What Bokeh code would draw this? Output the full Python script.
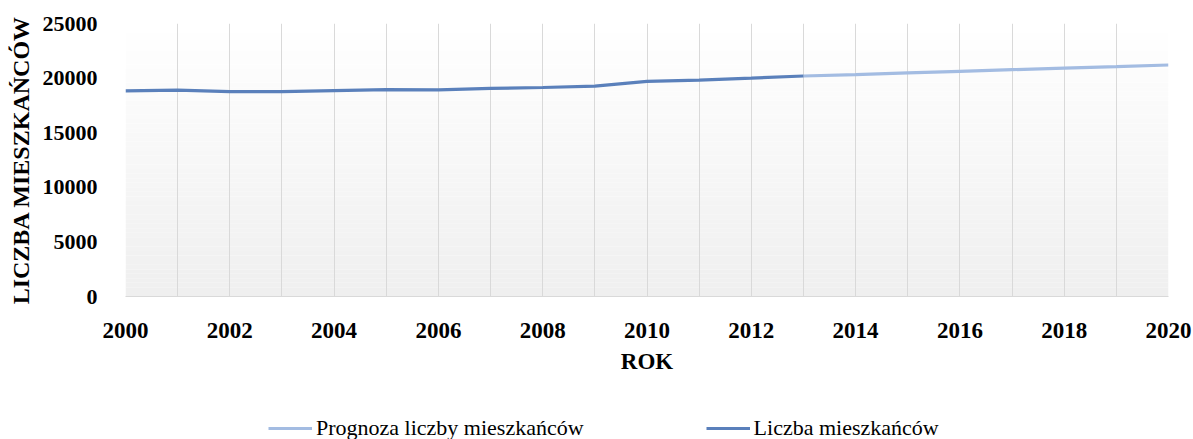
from bokeh.plotting import figure
from bokeh.layouts import column
from bokeh.models import Range1d, FixedTicker, Legend, LegendItem
from bokeh.embed import file_html
from bokeh.resources import INLINE
import numpy as np

# ---- data ----
years_actual = [2000, 2001, 2002, 2003, 2004, 2005, 2006, 2007, 2008, 2009, 2010, 2011, 2012, 2013]
population = [18830, 18900, 18760, 18760, 18860, 18950, 18930, 19050, 19140, 19260, 19700, 19820, 20000, 20190]
years_forecast = [2013, 2014, 2015, 2016, 2017, 2018, 2019, 2020]
forecast = [20190, 20320, 20470, 20620, 20770, 20910, 21050, 21200]
x_ticks = [2000, 2002, 2004, 2006, 2008, 2010, 2012, 2014, 2016, 2018, 2020]
y_ticks = [0, 5000, 10000, 15000, 20000, 25000]
label_forecast = "Prognoza liczby mieszkańców"
label_actual = "Liczba mieszkańców"

X0, X1 = 2000, 2020
Y0, Y1 = 0, 25000
FONT = "Liberation Serif"
C_FC = "#a3bce2"
C_AC = "#5a80bb"
LW = 3.2

W = 1193
H_MAIN = 395
H_LEG = 44

p = figure(width=W, height=H_MAIN, output_backend="svg", toolbar_location=None,
           x_range=Range1d(X0, X1), y_range=Range1d(Y0, Y1),
           min_border_left=125, min_border_right=25, min_border_top=23,
           min_border_bottom=H_MAIN - 296)
p.outline_line_color = None
p.background_fill_color = "white"
p.border_fill_color = "white"

# gradient background of the plot area (white at top, light grey at bottom)
n = 60
edges = np.linspace(Y0, Y1, n + 1)
cols = []
for i in range(n):
    t = i / (n - 1)
    v = int(round(0xEF + (0xFF - 0xEF) * t))
    cols.append("#%02x%02x%02x" % (v, v, v))
p.quad(left=X0, right=X1, bottom=edges[:-1], top=edges[1:], fill_color=cols,
       line_color=None, level="image")

# grids
p.ygrid.grid_line_color = None
p.xgrid.ticker = FixedTicker(ticks=list(range(X0, X1 + 1)))
p.xgrid.grid_line_color = "#d9d9d9"
p.xgrid.grid_line_width = 1

# lines
p.line(years_forecast, forecast, line_color=C_FC, line_width=LW)
p.line(years_actual, population, line_color=C_AC, line_width=LW)

# axes
p.xaxis.ticker = FixedTicker(ticks=x_ticks)
p.yaxis.ticker = FixedTicker(ticks=y_ticks)
for ax in (p.xaxis[0], p.yaxis[0]):
    ax.major_tick_line_color = None
    ax.minor_tick_line_color = None
    ax.major_label_text_font = FONT
    ax.major_label_text_font_style = "bold"
    ax.major_label_text_color = "black"
    ax.axis_label_text_font = FONT
    ax.axis_label_text_font_style = "bold"
    ax.axis_label_text_color = "black"
p.xaxis.major_label_text_font_size = "23px"
p.yaxis.major_label_text_font_size = "22px"
p.xaxis.axis_line_color = "#d9d9d9"
p.yaxis.axis_line_color = None
p.xaxis.major_label_standoff = 20
p.yaxis.major_label_standoff = 22
p.xaxis.axis_label = "ROK"
p.xaxis.axis_label_text_font_size = "23px"
p.xaxis.axis_label_standoff = 8
p.yaxis.axis_label = "LICZBA MIESZKAŃCÓW"
p.yaxis.axis_label_text_font_size = "24px"
p.yaxis.axis_label_standoff = 6

# legend strip (separate figure below the chart; its frame is aligned with the chart's)
q = figure(width=W, height=H_LEG, output_backend="svg", toolbar_location=None,
           x_range=Range1d(0, 1), y_range=Range1d(0, 1),
           min_border_left=0, min_border_right=0, min_border_top=0, min_border_bottom=0)
q.axis.visible = False
q.grid.visible = False
q.outline_line_color = None
q.background_fill_color = "white"
q.border_fill_color = "white"
# same series, lying outside this strip's view: only their legend samples show
l_fc = q.line(years_forecast, forecast, line_color=C_FC, line_width=LW)
l_ac = q.line(years_actual, population, line_color=C_AC, line_width=LW)
legend = Legend(items=[LegendItem(label=label_forecast, renderers=[l_fc]),
                       LegendItem(label=label_actual, renderers=[l_ac])],
                orientation="horizontal", location=(143, -2),
                label_text_font=FONT, label_text_font_size="22px",
                label_text_color="black", glyph_width=44, label_standoff=4,
                spacing=122, padding=0, margin=0, border_line_color=None,
                background_fill_alpha=0)
q.add_layout(legend, "center")

layout = column(p, q, spacing=0)
open("out.html", "w").write(file_html(layout, INLINE))
